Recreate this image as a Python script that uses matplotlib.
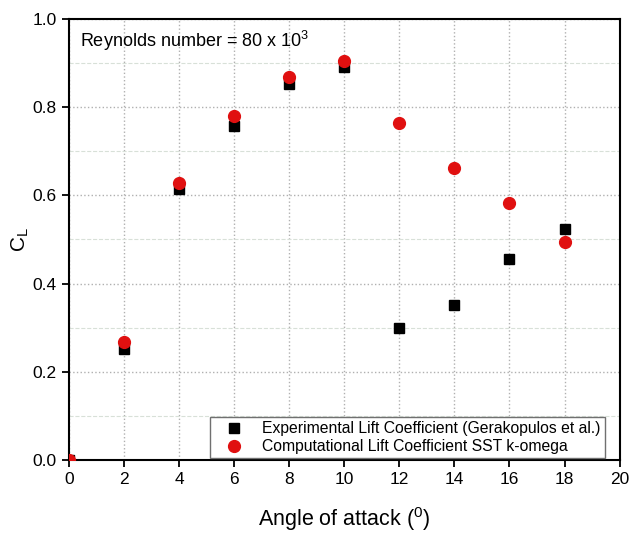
import matplotlib.pyplot as plt
from matplotlib.ticker import MultipleLocator

plt.rcParams['font.family'] = ['Liberation Sans', 'DejaVu Sans']

# angle of attack (deg) and lift coefficients
alpha_exp = [0, 2, 4, 6, 8, 10, 12, 14, 16, 18]
cl_exp = [0.0, 0.252, 0.615, 0.758, 0.852, 0.891, 0.300, 0.352, 0.455, 0.524]
alpha_cfd = [0, 2, 4, 6, 8, 10, 12, 14, 16, 18]
cl_cfd = [0.0, 0.267, 0.628, 0.781, 0.869, 0.904, 0.764, 0.663, 0.583, 0.494]

fig = plt.figure(figsize=(6.31, 5.4), dpi=100)
ax = fig.add_axes([0.109, 0.148, 0.873, 0.817])

ax.plot(alpha_exp, cl_exp, 's', color='black', markersize=7.5,
        label='Experimental Lift Coefficient (Gerakopulos et al.)', zorder=3)
ax.plot(alpha_cfd, cl_cfd, 'o', color='#e01010', markersize=8.5,
        label='Computational Lift Coefficient SST k-omega', zorder=4)

ax.set_xlim(0, 20)
ax.set_ylim(0, 1.0)
ax.xaxis.set_major_locator(MultipleLocator(2))
ax.yaxis.set_major_locator(MultipleLocator(0.2))
ax.yaxis.set_minor_locator(MultipleLocator(0.1))
ax.yaxis.set_major_formatter(plt.FormatStrFormatter('%.1f'))
ax.grid(which='major', color='#b0b0b0', linestyle=':', linewidth=1.0)
ax.grid(which='minor', axis='y', color='#d8e0d8', linestyle='--', linewidth=0.8)
ax.set_axisbelow(True)

ax.tick_params(which='major', direction='out', length=5, width=1.3, labelsize=12.5)
ax.tick_params(which='minor', length=0)
for s in ax.spines.values():
    s.set_linewidth(1.5)

ax.set_xlabel('Angle of attack ($\\mathregular{^0}$)', fontsize=15.5, labelpad=13)
ax.set_ylabel('C$\\mathregular{_L}$', fontsize=15, labelpad=1)
ax.text(0.4, 0.95, 'Reynolds number = 80 x 10$\\mathregular{^3}$', fontsize=13,
        va='center', ha='left')

ax.legend(loc='lower right', fontsize=11.3, frameon=True, fancybox=False,
          edgecolor='#707070', framealpha=1, borderpad=0.25, handletextpad=0.5,
          handlelength=2.6, labelspacing=0.2, borderaxespad=0,
          bbox_to_anchor=(0.973, 0.004))

fig.savefig('out.png', dpi=100)
